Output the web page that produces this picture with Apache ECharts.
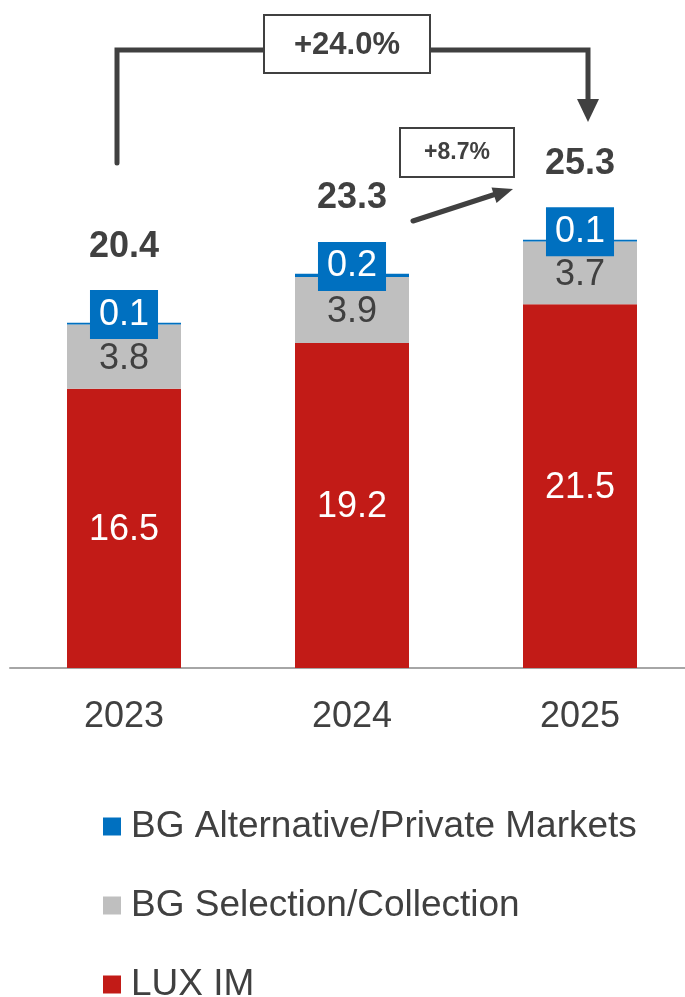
<!DOCTYPE html>
<html>
<head>
<meta charset="utf-8">
<script src="https://cdn.jsdelivr.net/npm/echarts@6/dist/echarts.min.js"></script>
<style>
html,body{margin:0;padding:0;background:#fff;}
#chart{width:685px;height:997px;}
</style>
</head>
<body>
<div id="chart"></div>
<script>
const categories = ['2023', '2024', '2025'];
const luxIM = [16.5, 19.2, 21.5];
const bgSelection = [3.8, 3.9, 3.7];
const bgAlternative = [0.1, 0.2, 0.1];
const totals = [20.4, 23.3, 25.3];
const growthTotal = '+24.0%';
const growthYoY = '+8.7%';

const FONT = "'Liberation Sans', Arial, sans-serif";
const DARK = '#404040';
const RED = '#C21B17';
const GRAY = '#BFBFBF';
const BLUE = '#0070C0';

const chart = echarts.init(document.getElementById('chart'));
chart.setOption({
  animation: false,
  textStyle: { fontFamily: FONT },
  grid: { left: 10, width: 684, top: 8, height: 660, outerBoundsMode: 'none', containLabel: false },
  xAxis: {
    type: 'category',
    data: categories,
    axisLine: { lineStyle: { color: '#A6A6A6', width: 2 } },
    axisTick: { show: false },
    axisLabel: { color: DARK, fontSize: 36, fontFamily: FONT, margin: 31 }
  },
  yAxis: { type: 'value', min: 0, max: 39, show: false, splitLine: { show: false } },
  legend: {
    orient: 'vertical',
    left: 98,
    top: 803,
    height: 260,
    itemWidth: 18,
    itemHeight: 18,
    itemGap: 42,
    icon: 'rect',
    data: ['BG Alternative/Private Markets', 'BG Selection/Collection', 'LUX IM'],
    textStyle: { color: DARK, fontSize: 37, fontFamily: FONT, lineHeight: 36, padding: [0, 0, 0, 5] }
  },
  series: [
    {
      name: 'LUX IM', type: 'bar', stack: 'a', barWidth: '50%', data: luxIM,
      itemStyle: { color: RED },
      label: { show: true, position: 'inside', color: '#fff', fontSize: 36, fontFamily: FONT, offset: [0, 2] }
    },
    {
      name: 'BG Selection/Collection', type: 'bar', stack: 'a', data: bgSelection,
      itemStyle: { color: GRAY },
      label: { show: true, position: 'inside', color: DARK, fontSize: 36, fontFamily: FONT, offset: [0, 2] }
    },
    {
      name: 'BG Alternative/Private Markets', type: 'bar', stack: 'a', data: bgAlternative,
      itemStyle: { color: BLUE },
      label: {
        show: true, position: 'inside', offset: [0, -9], color: '#fff', fontSize: 36, fontFamily: FONT,
        backgroundColor: BLUE, padding: [5, 9, 4, 9], lineHeight: 40
      }
    },
    {
      name: 'Total', type: 'scatter', data: totals, symbolSize: 0,
      itemStyle: { color: DARK, opacity: 1 },
      label: {
        show: true, position: 'top', distance: 58, color: DARK, fontSize: 36,
        fontWeight: 'bold', fontFamily: FONT,
        formatter: p => p.value.toFixed(1)
      }
    }
  ],
  graphic: [
    { type: 'polyline', shape: { points: [[117, 163], [117, 50], [263, 50]] },
      style: { stroke: DARK, lineWidth: 5, fill: null, lineCap: 'round', lineJoin: 'miter' } },
    { type: 'polyline', shape: { points: [[430, 50], [588, 50], [588, 102]] },
      style: { stroke: DARK, lineWidth: 5, fill: null, lineJoin: 'miter' } },
    { type: 'polygon', shape: { points: [[577, 99], [599, 99], [588, 122]] }, style: { fill: DARK } },
    { type: 'rect', shape: { x: 264, y: 15, width: 166, height: 58 },
      style: { fill: '#fff', stroke: DARK, lineWidth: 2 } },
    { type: 'text', x: 347, y: 45,
      style: { text: growthTotal, fill: DARK, font: "bold 31px " + FONT, align: 'center', verticalAlign: 'middle' } },
    { type: 'rect', shape: { x: 400, y: 128, width: 114, height: 49 },
      style: { fill: '#fff', stroke: DARK, lineWidth: 2 } },
    { type: 'text', x: 457, y: 153,
      style: { text: growthYoY, fill: DARK, font: "bold 23px " + FONT, align: 'center', verticalAlign: 'middle' } },
    { type: 'line', shape: { x1: 413, y1: 221, x2: 496, y2: 194 },
      style: { stroke: DARK, lineWidth: 5, lineCap: 'round' } },
    { type: 'polygon', shape: { points: [[513, 189], [496.5, 203], [491.5, 187.6]] }, style: { fill: DARK } }
  ]
});
</script>
</body>
</html>
